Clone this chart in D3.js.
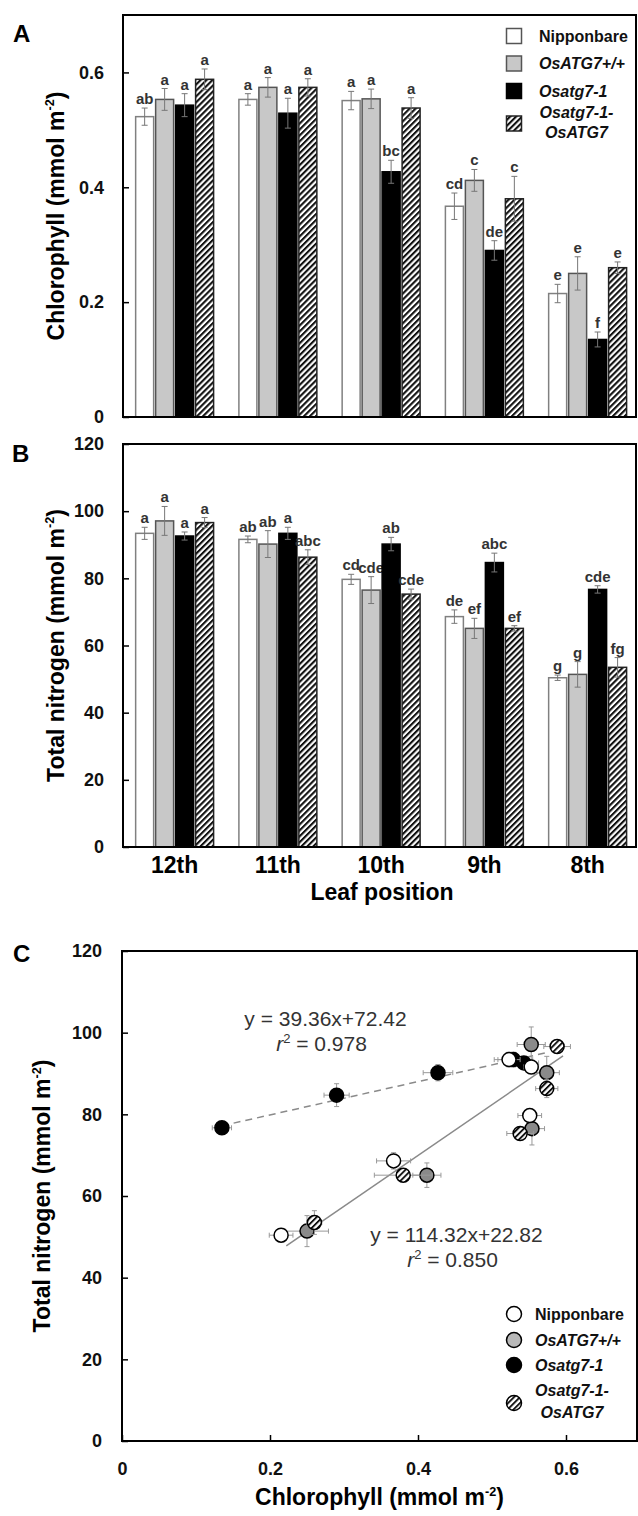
<!DOCTYPE html>
<html>
<head>
<meta charset="utf-8">
<script src="https://cdn.jsdelivr.net/npm/d3@7"></script>
<style>
  body { margin: 0; background: #fff; }
  svg { display: block; font-family: Arial, "Liberation Sans", Helvetica, sans-serif; }
</style>
</head>
<body>
<svg id="fig" width="638" height="1516"></svg>
<script>
// ---- data ---------------------------------------------------------------
const leaves = ["12th", "11th", "10th", "9th", "8th"];
const genotypes = ["Nipponbare", "OsATG7+/+", "Osatg7-1", "Osatg7-1-OsATG7"];

// chlorophyll (mmol m-2), one array per genotype, leaf order as above
const chlNip   = [0.523, 0.553, 0.551, 0.367, 0.215];
const chlWT    = [0.553, 0.574, 0.554, 0.412, 0.250];
const chlAtg   = [0.543, 0.529, 0.427, 0.290, 0.135];
const chlComp  = [0.588, 0.574, 0.538, 0.380, 0.260];
const chlErrNip  = [0.015, 0.010, 0.016, 0.023, 0.016];
const chlErrWT   = [0.019, 0.017, 0.017, 0.019, 0.029];
const chlErrAtg  = [0.020, 0.026, 0.020, 0.017, 0.013];
const chlErrComp = [0.018, 0.015, 0.018, 0.039, 0.010];
const chlLetNip  = ["ab", "a", "a", "cd", "e"];
const chlLetWT   = ["a", "a", "a", "c", "e"];
const chlLetAtg  = ["a", "a", "bc", "de", "f"];
const chlLetComp = ["a", "a", "a", "c", "e"];

// total nitrogen (mmol m-2)
const nNip   = [93.4, 91.6, 79.7, 68.6, 50.4];
const nWT    = [97.1, 90.2, 76.5, 65.1, 51.4];
const nAtg   = [92.6, 93.4, 90.2, 84.7, 76.7];
const nComp  = [96.6, 86.3, 75.3, 65.1, 53.5];
const nErrNip  = [1.8, 1.0, 1.5, 2.0, 0.8];
const nErrWT   = [4.3, 4.0, 4.0, 3.0, 3.8];
const nErrAtg  = [1.2, 1.8, 2.0, 2.8, 1.1];
const nErrComp = [1.5, 2.2, 1.5, 0.8, 2.9];
const nLetNip  = ["a", "ab", "cd", "de", "g"];
const nLetWT   = ["a", "ab", "cde", "ef", "g"];
const nLetAtg  = ["a", "a", "ab", "abc", "cde"];
const nLetComp = ["a", "abc", "cde", "ef", "fg"];

const chlTicks = [0, 0.2, 0.4, 0.6];
const nTicks = [0, 20, 40, 60, 80, 100, 120];

// regression lines in panel C: [x0, y0, x1, y1] in data units
const fitAtgLine = [0.135, 77.2, 0.576, 95.2];
const fitAllLine = [0.222, 47.8, 0.596, 94.3];
const fitAtgText = ["y = 39.36x+72.42", "0.978"];
const fitAllText = ["y = 114.32x+22.82", "0.850"];

const chlMeans = [chlNip, chlWT, chlAtg, chlComp];
const chlErrs = [chlErrNip, chlErrWT, chlErrAtg, chlErrComp];
const chlLets = [chlLetNip, chlLetWT, chlLetAtg, chlLetComp];
const nMeans = [nNip, nWT, nAtg, nComp];
const nErrs = [nErrNip, nErrWT, nErrAtg, nErrComp];
const nLets = [nLetNip, nLetWT, nLetAtg, nLetComp];

// ---- styles -------------------------------------------------------------
const barFill = ["#ffffff", "#c8c8c8", "#000000", "url(#hatch)"];
const barStroke = ["#808080", "#555555", "#000000", "#222222"];
const dotFill = ["#ffffff", "#8a8a8a", "#000000", "url(#hatchDot)"];
const dotLegendFill = ["#ffffff", "#b8b8b8", "#000000", "url(#hatchDot)"];

const svg = d3.select("#fig");
const defs = svg.append("defs");

function addHatch(id, size, width) {
  const p = defs.append("pattern")
      .attr("id", id)
      .attr("patternUnits", "userSpaceOnUse")
      .attr("width", size)
      .attr("height", size)
      .attr("patternTransform", "rotate(45)");
  p.append("rect").attr("width", size).attr("height", size).attr("fill", "#fff");
  p.append("rect")
      .attr("x", 0).attr("y", 0).attr("width", width).attr("height", size)
      .attr("fill", "#111");
}
addHatch("hatch", 4.2, 2.1);
addHatch("hatchDot", 4.2, 1.9);

function panelLetter(txt, x, y) {
  svg.append("text")
      .attr("x", x).attr("y", y)
      .attr("font-size", 24).attr("font-weight", "bold")
      .text(txt);
}

function unitTitle(g, label) {
  // "label (mmol m-2)" with superscript
  g.append("tspan").text(label + " (mmol m");
  g.append("tspan").attr("font-size", "0.55em").attr("dy", "-0.75em").text("-2");
  g.append("tspan").attr("dy", "0.42em").text(")");
}

function styleAxis(g) {
  g.select(".domain").remove();
  g.selectAll(".tick line").attr("stroke", "#000").attr("stroke-width", 1.5);
  g.selectAll(".tick text")
      .attr("fill", "#111")
      .attr("font-size", 18)
      .attr("font-weight", "bold")
      .attr("font-family", null);
}

// ---- bar panels ---------------------------------------------------------
function barPanel(o) {
  const left = 123, right = 636;
  const x = d3.scaleBand()
      .domain(leaves)
      .range([left, 639.25])
      .paddingInner(0.245)
      .paddingOuter(0.1225);
  const xs = d3.scaleBand()
      .domain(genotypes)
      .range([0, x.bandwidth()])
      .paddingInner(0.1);
  const y = d3.scaleLinear().domain([0, o.yMax]).range([o.bottom, o.top]);

  const g = svg.append("g");

  // bars
  genotypes.forEach((gt, gi) => {
    const rows = leaves.map((lf, i) => ({
      leaf: lf, v: o.means[gi][i], e: o.errs[gi][i], lab: o.lets[gi][i]
    }));
    const sg = g.append("g");
    sg.selectAll("rect")
      .data(rows)
      .enter()
      .append("rect")
        .attr("x", d => x(d.leaf) + xs(gt))
        .attr("y", d => y(d.v))
        .attr("width", xs.bandwidth())
        .attr("height", d => y(0) - y(d.v))
        .attr("fill", barFill[gi])
        .attr("stroke", barStroke[gi])
        .attr("stroke-width", 1.5);

    const cx = d => x(d.leaf) + xs(gt) + xs.bandwidth() / 2;
    const eb = sg.selectAll(".err")
      .data(rows)
      .enter()
      .append("g")
        .attr("stroke", "#777")
        .attr("stroke-width", 1);
    eb.append("line")
        .attr("x1", cx).attr("x2", cx)
        .attr("y1", d => y(d.v - d.e)).attr("y2", d => y(d.v + d.e));
    eb.append("line")
        .attr("x1", d => cx(d) - 3).attr("x2", d => cx(d) + 3)
        .attr("y1", d => y(d.v + d.e)).attr("y2", d => y(d.v + d.e));
    eb.append("line")
        .attr("x1", d => cx(d) - 3).attr("x2", d => cx(d) + 3)
        .attr("y1", d => y(d.v - d.e)).attr("y2", d => y(d.v - d.e));

    sg.selectAll(".lab")
      .data(rows)
      .enter()
      .append("text")
        .attr("x", cx)
        .attr("y", d => y(d.v + d.e) - 4)
        .attr("text-anchor", "middle")
        .attr("font-size", 15)
        .attr("font-weight", "bold")
        .attr("fill", "#333")
        .text(d => d.lab);
  });

  // frame
  g.append("rect")
      .attr("x", left).attr("y", o.top)
      .attr("width", right - left).attr("height", o.bottom - o.top)
      .attr("fill", "none").attr("stroke", "#000").attr("stroke-width", 2);

  // y axis (ticks inward)
  g.append("g")
      .attr("transform", `translate(${left},0)`)
      .call(d3.axisLeft(y).tickValues(o.ticks).tickSize(-6).tickPadding(19).tickFormat(d => d))
      .call(styleAxis);

  // y title
  const t = g.append("text")
      .attr("transform", `translate(63.5,${(o.top + o.bottom) / 2}) rotate(-90)`)
      .attr("text-anchor", "middle")
      .attr("font-size", 23)
      .attr("font-weight", "bold");
  unitTitle(t, o.title);

  return { x, y, g };
}

const A = barPanel({
  top: 15, bottom: 417, yMax: 0.7, ticks: chlTicks,
  means: chlMeans, errs: chlErrs, lets: chlLets, title: "Chlorophyll"
});
const B = barPanel({
  top: 444, bottom: 847, yMax: 120, ticks: nTicks,
  means: nMeans, errs: nErrs, lets: nLets, title: "Total nitrogen"
});

// category labels under panel B
B.g.selectAll(".cat")
  .data(leaves)
  .enter()
  .append("text")
    .attr("x", d => B.x(d) + B.x.bandwidth() / 2)
    .attr("y", 873)
    .attr("text-anchor", "middle")
    .attr("font-size", 23)
    .attr("font-weight", "bold")
    .text(d => d);
B.g.append("text")
    .attr("x", 382).attr("y", 900)
    .attr("text-anchor", "middle")
    .attr("font-size", 23)
    .attr("font-weight", "bold")
    .text("Leaf position");

panelLetter("A", 13, 42);
panelLetter("B", 12, 462);
panelLetter("C", 13, 962);

// legend, panel A
const legA = svg.append("g").attr("transform", "translate(506.5,0)");
const legAy = [28.5, 56, 83.5, 116];
genotypes.forEach((gt, gi) => {
  legA.append("rect")
      .attr("x", 0).attr("y", legAy[gi])
      .attr("width", 15).attr("height", 15)
      .attr("fill", barFill[gi])
      .attr("stroke", barStroke[gi] === "#808080" ? "#555" : barStroke[gi])
      .attr("stroke-width", 1.5);
});
function legendText(g, xs, xc, ys, size) {
  const txt = (x, y, s, italic, anchor) => g.append("text")
      .attr("x", x).attr("y", y)
      .attr("font-size", size).attr("font-weight", "bold")
      .attr("font-style", italic ? "italic" : "normal")
      .attr("text-anchor", anchor || "start")
      .attr("fill", "#111")
      .text(s);
  txt(xs, ys[0], "Nipponbare", false);
  txt(xs, ys[1], "OsATG7+/+", true);
  txt(xs, ys[2], "Osatg7-1", true);
  txt(xc, ys[3], "Osatg7-1-", true, "middle");
  txt(xc, ys[4], "OsATG7", true, "middle");
}
legendText(legA, 32.5, 70, [42, 69, 96.5, 118, 138], 16);

// ---- panel C: scatter ---------------------------------------------------
const cTop = 951, cBottom = 1441, cLeft = 122, cRight = 637;
const cx = d3.scaleLinear().domain([0, 0.7]).range([cLeft, 640]);
const cy = d3.scaleLinear().domain([0, 120]).range([cBottom, cTop]);
const C = svg.append("g");

C.append("rect")
    .attr("x", cLeft).attr("y", cTop)
    .attr("width", cRight - cLeft).attr("height", cBottom - cTop)
    .attr("fill", "none").attr("stroke", "#000").attr("stroke-width", 2);

C.append("g")
    .attr("transform", `translate(${cLeft},0)`)
    .call(d3.axisLeft(cy).tickValues(nTicks).tickSize(-6).tickPadding(20))
    .call(styleAxis);
C.append("g")
    .attr("transform", `translate(0,${cBottom})`)
    .call(d3.axisBottom(cx).tickValues(chlTicks).tickSize(-6).tickPadding(21).tickFormat(d => d))
    .call(styleAxis);

const cyT = C.append("text")
    .attr("transform", `translate(50,${(cTop + cBottom) / 2}) rotate(-90)`)
    .attr("text-anchor", "middle")
    .attr("font-size", 23)
    .attr("font-weight", "bold");
unitTitle(cyT, "Total nitrogen");
const cxT = C.append("text")
    .attr("x", (cLeft + cRight) / 2).attr("y", 1505)
    .attr("text-anchor", "middle")
    .attr("font-size", 23)
    .attr("font-weight", "bold");
unitTitle(cxT, "Chlorophyll");

// regression lines
const line = d3.line().x(d => cx(d[0])).y(d => cy(d[1]));
C.append("path")
    .attr("d", line([[fitAtgLine[0], fitAtgLine[1]], [fitAtgLine[2], fitAtgLine[3]]]))
    .attr("stroke", "#8a8a8a").attr("stroke-width", 1.5)
    .attr("stroke-dasharray", "7,5").attr("fill", "none");
C.append("path")
    .attr("d", line([[fitAllLine[0], fitAllLine[1]], [fitAllLine[2], fitAllLine[3]]]))
    .attr("stroke", "#8a8a8a").attr("stroke-width", 1.5).attr("fill", "none");

function fitLabel(lines, x, y) {
  C.append("text")
      .attr("x", x).attr("y", y)
      .attr("text-anchor", "middle")
      .attr("font-size", 21).attr("fill", "#333")
      .text(lines[0]);
  const t2 = C.append("text")
      .attr("x", x - 4).attr("y", y + 25)
      .attr("text-anchor", "middle")
      .attr("font-size", 21).attr("fill", "#333");
  t2.append("tspan").attr("font-style", "italic").text("r");
  t2.append("tspan").attr("font-size", 13).attr("dy", -8).text("2");
  t2.append("tspan").attr("dy", 8).text(" = " + lines[1]);
}
fitLabel(fitAtgText, 325.5, 1026);
fitLabel(fitAllText, 456.5, 1242);

// points with x/y error bars
const drawOrder = [1, 3, 2, 0];
drawOrder.forEach(gi => {
  const rows = leaves.map((lf, i) => ({
    x: chlMeans[gi][i], xe: chlErrs[gi][i], y: nMeans[gi][i], ye: nErrs[gi][i]
  }));
  const sg = C.append("g");
  const eb = sg.selectAll(".e")
    .data(rows)
    .enter()
    .append("g")
      .attr("stroke", "#999")
      .attr("stroke-width", 1);
  eb.append("line")
      .attr("x1", d => cx(d.x - d.xe)).attr("x2", d => cx(d.x + d.xe))
      .attr("y1", d => cy(d.y)).attr("y2", d => cy(d.y));
  eb.append("line")
      .attr("x1", d => cx(d.x)).attr("x2", d => cx(d.x))
      .attr("y1", d => cy(d.y - d.ye)).attr("y2", d => cy(d.y + d.ye));
  [-1, 1].forEach(s => {
    eb.append("line")
        .attr("x1", d => cx(d.x + s * d.xe)).attr("x2", d => cx(d.x + s * d.xe))
        .attr("y1", d => cy(d.y) - 2.5).attr("y2", d => cy(d.y) + 2.5);
    eb.append("line")
        .attr("x1", d => cx(d.x) - 2.5).attr("x2", d => cx(d.x) + 2.5)
        .attr("y1", d => cy(d.y + s * d.ye)).attr("y2", d => cy(d.y + s * d.ye));
  });
  sg.selectAll("circle")
    .data(rows)
    .enter()
    .append("circle")
      .attr("cx", d => cx(d.x))
      .attr("cy", d => cy(d.y))
      .attr("r", 7)
      .attr("fill", dotFill[gi])
      .attr("stroke", "#000")
      .attr("stroke-width", 1.5);
});

// legend, panel C
const legC = svg.append("g").attr("transform", "translate(514,0)");
const legCy = [1314, 1340, 1365, 1403];
genotypes.forEach((gt, gi) => {
  legC.append("circle")
      .attr("cx", 0).attr("cy", legCy[gi]).attr("r", 7.5)
      .attr("fill", dotLegendFill[gi])
      .attr("stroke", "#000").attr("stroke-width", 1.5);
});
legendText(legC, 21, 58, [1320, 1346, 1371, 1396, 1418], 16);
</script>
</body>
</html>
